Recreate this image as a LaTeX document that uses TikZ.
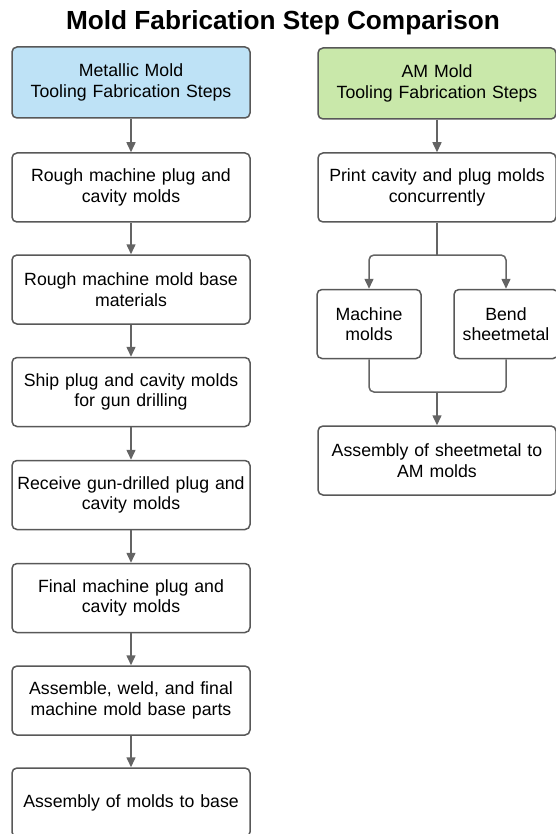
\documentclass[tikz,border=0pt]{standalone}
\usepackage{fontspec}
\setmainfont{Liberation Sans}
\usetikzlibrary{arrows.meta}
\definecolor{metalblue}{RGB}{190,226,246}
\definecolor{amgreen}{RGB}{201,232,170}
\definecolor{edgegray}{RGB}{88,88,88}
\definecolor{arrowgray}{RGB}{100,100,100}
\tikzset{
    stepbox/.style={draw=edgegray, line width=1.5pt, rounded corners=5pt, fill=white,
        minimum width=238pt, minimum height=69pt, text width=234pt, align=center,
        inner sep=0pt, font=\fontsize{17.7}{20.5}\selectfont},
    headbox/.style={stepbox, minimum height=71pt},
    smallbox/.style={stepbox, minimum width=104pt, text width=100pt},
    flow/.style={draw=arrowgray, line width=1.5pt, rounded corners=5pt, -{Triangle[length=10pt,width=9pt]}},
    joinline/.style={draw=arrowgray, line width=1.5pt, rounded corners=5pt}
}
\begin{document}
\begin{tikzpicture}[x=1pt,y=-1pt]
        \useasboundingbox (0,0) rectangle (555,834);
        \node[anchor=base, font=\bfseries\fontsize{26.2}{30}\selectfont] (title) at (283,29.5) {Mold Fabrication Step Comparison};
        \node[headbox, fill=metalblue] (metal) at (131,82.5) {Metallic Mold\\Tooling Fabrication Steps};
        \node[stepbox] (m1) at (131,187.5) {Rough machine plug and\\cavity molds};
        \node[stepbox] (m2) at (131,289.5) {Rough machine mold base\\materials};
        \node[stepbox] (m3) at (131,392) {Ship plug and cavity molds\\for gun drilling};
        \node[stepbox] (m4) at (131,495) {Receive gun-drilled plug and\\cavity molds};
        \node[stepbox] (m5) at (131,598) {Final machine plug and\\cavity molds};
        \node[stepbox] (m6) at (131,700.5) {Assemble, weld, and final\\machine mold base parts};
        \node[stepbox] (m7) at (131,802.5) {Assembly of molds to base};
        \node[headbox, fill=amgreen] (am) at (437,83.5) {AM Mold\\Tooling Fabrication Steps};
        \node[stepbox] (print) at (437,187.5) {Print cavity and plug molds\\concurrently};
        \node[smallbox] (machine) at (369,324) {Machine\\molds};
        \node[smallbox] (bend) at (506,324) {Bend\\sheetmetal};
        \node[stepbox] (assembly) at (437,460.5) {Assembly of sheetmetal to\\AM molds};
        \coordinate (split) at (437,255);
        \coordinate (merge) at (437,392);
        \draw[flow] (metal) -- (m1);
        \draw[flow] (m1) -- (m2);
        \draw[flow] (m2) -- (m3);
        \draw[flow] (m3) -- (m4);
        \draw[flow] (m4) -- (m5);
        \draw[flow] (m5) -- (m6);
        \draw[flow] (m6) -- (m7);
        \draw[flow] (am) -- (print);
        \draw[joinline] (print) -- (split);
        \draw[flow] (split) -| (machine);
        \draw[flow] (split) -| (bend);
        \draw[joinline] (machine) |- (merge);
        \draw[joinline] (bend) |- (merge);
        \draw[flow] (merge) -- (assembly);
    \end{tikzpicture}
\end{document}
